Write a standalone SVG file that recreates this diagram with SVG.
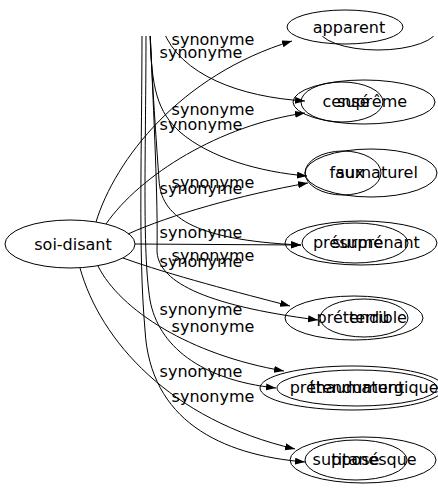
<svg xmlns="http://www.w3.org/2000/svg" width="438" height="491" viewBox="0 0 438 491">
<defs>
<style>
.n ellipse{fill:none;stroke:#000;stroke-width:1}
text{font-family:"DejaVu Sans",sans-serif;font-size:16px;fill:#000;text-anchor:middle}
.e path{fill:none;stroke:#000;stroke-width:1;marker-end:url(#ah)}
</style>
<marker id="ah" markerUnits="userSpaceOnUse" markerWidth="11" markerHeight="8" refX="10" refY="3.5" orient="auto"><path d="M0,0L10,3.5L0,7z" fill="#000"/></marker>
<clipPath id="cb"><rect x="0" y="36" width="438" height="455"/></clipPath>
</defs>
<rect width="438" height="491" fill="#fff"/>
<g id="connectors" class="e">
<path d="M96,222 C115,160 180,75 292,41"/>
<path d="M106,224 C140,175 220,125 305,113"/>
<path d="M128,234 C170,215 240,195 308,183"/>
<path d="M135,244 L301,245"/>
<path d="M123,258 C170,275 240,293 290,306"/>
<path d="M98,266 C120,310 190,355 284,371"/>
<path d="M80,268 C100,340 170,420 295,449"/>
<g clip-path="url(#cb)">
<path d="M163,30 C180,75 240,97 305,101"/>
<path d="M150,30 C151,90 158,112 180,132 C210,158 260,172 307,176"/>
<path d="M150,30 C153,100 157,150 159,180 C161,215 190,240 301,245"/>
<path d="M150,30 C154,120 158,200 157,250 C157,280 200,305 318,320"/>
<path d="M146,30 C146,150 142,250 150,300 C158,345 200,380 276,388"/>
<path d="M142,30 C142,150 138,250 145,330 C150,420 220,455 305,462"/>
</g>
</g>
<g id="labels">
<text x="201" y="58">synonyme</text>
<text x="201" y="130">synonyme</text>
<text x="201" y="194">synonyme</text>
<text x="201" y="238">synonyme</text>
<text x="201" y="267">synonyme</text>
<text x="201" y="315">synonyme</text>
<text x="201" y="377">synonyme</text>
<g clip-path="url(#cb)">
<text x="213" y="45">synonyme</text>
<text x="213" y="115">synonyme</text>
<text x="213" y="188">synonyme</text>
<text x="213" y="261">synonyme</text>
<text x="213" y="332">synonyme</text>
<text x="213" y="402">synonyme</text>
</g>
</g>
<g id="soi-disant" class="n"><ellipse cx="70" cy="244" rx="65" ry="24"/><text x="73" y="250">soi-disant</text></g>
<g id="apparent" class="n"><ellipse cx="345" cy="27" rx="58" ry="17"/><text x="349" y="33">apparent</text></g>
<g id="hidden-top" class="n" clip-path="url(#cb)"><ellipse cx="378" cy="28" rx="60" ry="22"/></g>
<g id="cense" class="n"><ellipse cx="342" cy="102" rx="41" ry="20"/><text x="346" y="107">censé</text></g>
<g id="supreme" class="n"><ellipse cx="364" cy="102" rx="71" ry="22"/><text x="372" y="107">suprême</text></g>
<g id="faux" class="n"><ellipse cx="343" cy="173" rx="38" ry="22"/><text x="347" y="178">faux</text></g>
<g id="surnaturel" class="n"><ellipse cx="371" cy="173" rx="66" ry="24"/><text x="377" y="178">surnaturel</text></g>
<g id="presume" class="n"><ellipse cx="355" cy="243" rx="53" ry="20"/><text x="348" y="248">présumé</text></g>
<g id="surprenant" class="n"><ellipse cx="361" cy="243" rx="76" ry="22"/><text x="376" y="248">surprenant</text></g>
<g id="pretendu" class="n"><ellipse cx="354" cy="318" rx="69" ry="22"/><text x="353" y="323">prétendu</text></g>
<g id="terrible" class="n"><ellipse cx="364" cy="318" rx="44" ry="19"/><text x="378" y="323">terrible</text></g>
<g id="pretendument" class="n"><ellipse cx="352" cy="388" rx="92" ry="22"/><text x="347" y="393">prétendument</text></g>
<g id="thaumaturgique" class="n"><ellipse cx="357" cy="388" rx="80" ry="18"/><text x="374" y="393">thaumaturgique</text></g>
<g id="suppose" class="n"><ellipse cx="363" cy="460" rx="73" ry="23"/><text x="346" y="465">supposé</text></g>
<g id="titanesque" class="n"><ellipse cx="356" cy="460" rx="51" ry="20"/><text x="374" y="465">titanesque</text></g>
</svg>
